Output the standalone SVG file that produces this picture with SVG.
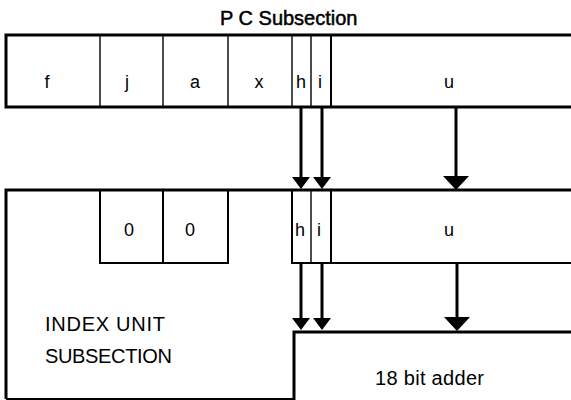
<svg xmlns="http://www.w3.org/2000/svg" width="571" height="400" viewBox="0 0 571 400">
<style>
  .thick { fill: none; stroke: #000; stroke-width: 3; }
  .med { fill: none; stroke: #000; stroke-width: 2; }
  .thin { fill: none; stroke: #000; stroke-width: 1.4; }
  .lbl { font-family: "Liberation Sans", Arial, sans-serif; font-size: 18px; fill: #000; text-anchor: middle; }
  .big { font-family: "Liberation Sans", Arial, sans-serif; font-size: 20px; fill: #000; }
  .title { font-family: "Liberation Sans", Arial, sans-serif; font-size: 20px; fill: #000; stroke: #000; stroke-width: 0.5; }
  .shaft { fill: none; stroke: #000; stroke-width: 3; }
</style>
<defs>
  <marker id="headS" markerUnits="userSpaceOnUse" viewBox="0 -9 12 18" refX="1" refY="0" markerWidth="12" markerHeight="18" orient="auto">
    <path d="M0,-9 L12,0 L0,9 Z" fill="#000"/>
  </marker>
  <marker id="headL" markerUnits="userSpaceOnUse" viewBox="0 -13 14 26" refX="1" refY="0" markerWidth="14" markerHeight="26" orient="auto">
    <path d="M0,-13 L14,0 L0,13 Z" fill="#000"/>
  </marker>
</defs>
<rect width="571" height="400" fill="#fff"/>

<g id="pc-subsection">
  <text class="title" x="220" y="25">P C Subsection</text>
  <path class="thick" d="M571,35 H6 V107 H571"/>
  <path class="thin" d="M100,35 V107 M163,35 V107 M228,35 V107 M292,35 V107 M311,35 V107"/>
  <path class="med" d="M331,35 V107"/>
  <text class="lbl" x="47" y="88">f</text>
  <text class="lbl" x="127" y="88">j</text>
  <text class="lbl" x="195" y="88">a</text>
  <text class="lbl" x="259" y="88">x</text>
  <text class="lbl" x="301" y="88">h</text>
  <text class="lbl" x="320" y="88">i</text>
  <text class="lbl" x="449" y="88">u</text>
</g>

<g id="index-unit">
  <path class="thick" d="M571,190 H6 V399"/>
  <path class="med" d="M6,399 H293"/>
  <path class="med" d="M100,190 V263 H228 V190 M163,190 V263"/>
  <path class="med" d="M292,190 V263 H571"/>
  <path class="thin" d="M311,190 V263"/>
  <path class="med" d="M331,190 V263"/>
  <text class="lbl" x="129" y="236">0</text>
  <text class="lbl" x="190" y="236">0</text>
  <text class="lbl" x="300" y="236">h</text>
  <text class="lbl" x="319" y="236">i</text>
  <text class="lbl" x="449" y="236">u</text>
  <text class="big" x="45" y="331" textLength="120">INDEX UNIT</text>
  <text class="big" x="45" y="363" textLength="127">SUBSECTION</text>
</g>

<g id="adder">
  <path class="thick" d="M294,400 V332 H571"/>
  <text class="big" x="375" y="385" textLength="109">18 bit adder</text>
</g>

<g id="connectors">
  <path class="shaft" d="M301,108 V178" marker-end="url(#headS)"/>
  <path class="shaft" d="M322,108 V178" marker-end="url(#headS)"/>
  <path class="shaft" d="M456,108 V177" marker-end="url(#headL)"/>
  <path class="shaft" d="M301,264 V319" marker-end="url(#headS)"/>
  <path class="shaft" d="M322,264 V319" marker-end="url(#headS)"/>
  <path class="shaft" d="M457,264 V318" marker-end="url(#headL)"/>
</g>
</svg>
